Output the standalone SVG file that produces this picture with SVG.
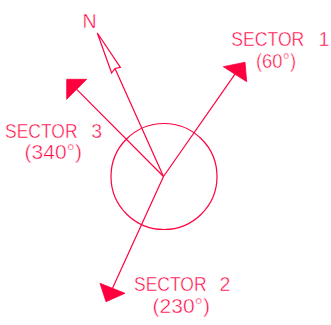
<svg xmlns="http://www.w3.org/2000/svg" width="331" height="325" viewBox="0 0 331 325">
  <style>
    .ln { stroke: #ff003f; stroke-width: 1.2; fill: none; }
    .ah { fill: #ff003f; stroke: #ff003f; stroke-width: 0.8; stroke-linejoin: miter; }
    .oh { fill: #ffffff; stroke: #ff003f; stroke-width: 1.2; stroke-linejoin: miter; }
    .t { font-family: "Liberation Sans", Arial, sans-serif; font-size: 19.5px; fill: #ff003f; stroke: #ffffff; stroke-width: 0.45px; }
  </style>
  <rect x="0" y="0" width="331" height="325" fill="#ffffff"/>
  <g id="circle">
    <circle class="ln" cx="164" cy="176.5" r="53"/>
  </g>
  <g id="connectors">
    <line class="ln" x1="163.5" y1="176.5" x2="235" y2="74.2"/>
    <line class="ln" x1="163.5" y1="176.5" x2="76.7" y2="89.3"/>
    <line class="ln" x1="163.5" y1="176.5" x2="112.5" y2="288.3"/>
    <line class="ln" x1="163.5" y1="176.5" x2="115" y2="68.5"/>
    <polygon class="ah" points="245,62.3 223.3,66.7 246.7,81.7"/>
    <polygon class="ah" points="66.7,79.3 86.7,79.3 66.7,99.3"/>
    <polygon class="ah" points="106,301.7 100,283.3 125,293.3"/>
    <polygon class="oh" points="97.3,33 111.6,73 115,68.5 120.4,67.3"/>
  </g>
  <g id="north">
    <text class="t" x="82.5" y="27.5">N</text>
  </g>
  <g id="sector1">
    <text class="t" x="231.3" y="45.5"><tspan textLength="73" lengthAdjust="spacingAndGlyphs">SECTOR</tspan><tspan x="313"> 1</tspan></text>
    <text class="t" x="256" y="68" textLength="40" lengthAdjust="spacingAndGlyphs">(60°)</text>
  </g>
  <g id="sector3">
    <text class="t" x="5" y="137.5"><tspan textLength="72.5" lengthAdjust="spacingAndGlyphs">SECTOR</tspan><tspan x="85.8"> 3</tspan></text>
    <text class="t" x="24.5" y="159" textLength="57.5" lengthAdjust="spacingAndGlyphs">(340°)</text>
  </g>
  <g id="sector2">
    <text class="t" x="134" y="290.5"><tspan textLength="72.5" lengthAdjust="spacingAndGlyphs">SECTOR</tspan><tspan x="214"> 2</tspan></text>
    <text class="t" x="152.5" y="313" textLength="57.5" lengthAdjust="spacingAndGlyphs">(230°)</text>
  </g>
</svg>
